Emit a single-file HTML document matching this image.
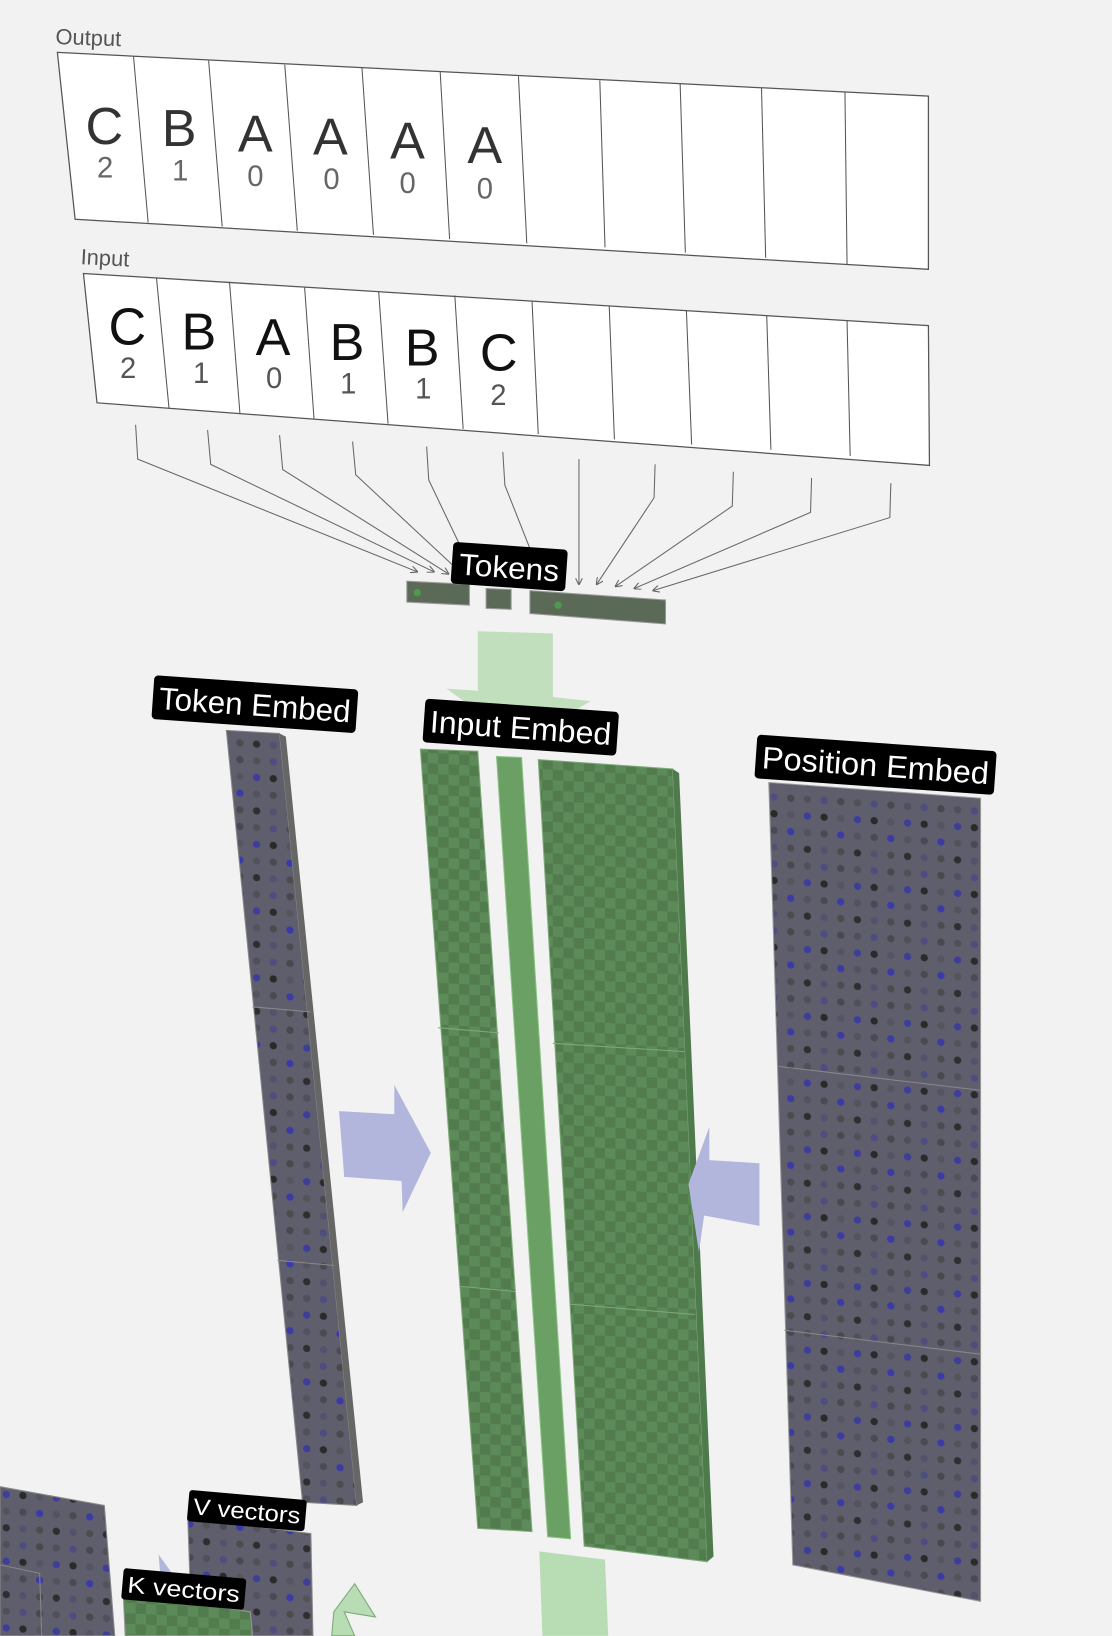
<!DOCTYPE html>
<html><head><meta charset="utf-8"><style>
html,body{margin:0;padding:0;background:#f2f2f2;}
svg{display:block;}
text{font-family:"Liberation Sans",sans-serif;}
</style></head><body>
<svg width="1112" height="1636" viewBox="0 0 1066 1568" xmlns="http://www.w3.org/2000/svg">
<defs>
<pattern id="dots" width="48" height="64" patternUnits="userSpaceOnUse" patternTransform="skewY(4)">
<rect width="48" height="64" fill="#5e5e6c"/>
<circle cx="6" cy="8" r="3.5" fill="#505058"/><circle cx="22" cy="8" r="3.5" fill="#4d4d80"/><circle cx="38" cy="8" r="3.5" fill="#48484e"/>
<circle cx="6" cy="24" r="3.5" fill="#3d3d9a"/><circle cx="22" cy="24" r="3.5" fill="#2a2a2a"/><circle cx="38" cy="24" r="3.5" fill="#55555e"/>
<circle cx="6" cy="40" r="3.5" fill="#53535c"/><circle cx="22" cy="40" r="3.5" fill="#4a4a52"/><circle cx="38" cy="40" r="3.5" fill="#3b3ba8"/>
<circle cx="6" cy="56" r="3.5" fill="#2e2e30"/><circle cx="22" cy="56" r="3.5" fill="#525270"/><circle cx="38" cy="56" r="3.5" fill="#4c4c50"/>
</pattern>
<pattern id="chk" width="20" height="20" patternUnits="userSpaceOnUse" patternTransform="skewY(3)">
<rect width="20" height="20" fill="#5c8a58"/>
<rect width="10" height="10" fill="#527c4e"/><rect x="10" y="10" width="10" height="10" fill="#527c4e"/>
</pattern>
<marker id="ah" viewBox="0 0 10 10" refX="9" refY="5" markerWidth="7" markerHeight="7" orient="auto">
<path d="M0,0 L10,5 L0,10" fill="none" stroke="#666" stroke-width="1.5"/></marker>
</defs>

<!-- Output row -->
<text x="53" y="42" font-size="21" fill="#555" transform="rotate(2 53 42)">Output</text>
<polygon points="55,50 890,92 890,258 72,210" fill="#fff" stroke="#555" stroke-width="1.2"/>
<g stroke="#555" stroke-width="1">
<line x1="128" y1="54" x2="142" y2="213"/><line x1="200" y1="58" x2="213" y2="217"/>
<line x1="273" y1="62" x2="285" y2="221"/><line x1="347" y1="65" x2="358" y2="225"/>
<line x1="422" y1="69" x2="431" y2="229"/><line x1="497" y1="73" x2="505" y2="233"/>
<line x1="575" y1="77" x2="580" y2="237"/><line x1="652" y1="80" x2="657" y2="242"/>
<line x1="730" y1="84" x2="734" y2="247"/><line x1="810" y1="88" x2="812" y2="253"/>
</g>
<g font-size="50" fill="#333">
<text x="82" y="138">C</text><text x="155" y="140">B</text><text x="228" y="145">A</text>
<text x="300" y="148">A</text><text x="374" y="152">A</text><text x="448" y="156">A</text>
</g>
<g font-size="28" fill="#666">
<text x="93" y="170">2</text><text x="165" y="173">1</text><text x="237" y="178">0</text>
<text x="310" y="181">0</text><text x="383" y="185">0</text><text x="457" y="190">0</text>
</g>

<!-- Input row -->
<text x="77" y="253" font-size="21" fill="#555" transform="rotate(3 77 253)">Input</text>
<polygon points="80,262 890,312 891,446 93,386" fill="#fff" stroke="#555" stroke-width="1.2"/>
<g stroke="#555" stroke-width="1">
<line x1="150" y1="266" x2="162" y2="391"/><line x1="220" y1="270" x2="230" y2="396"/>
<line x1="292" y1="275" x2="301" y2="401"/><line x1="363" y1="279" x2="372" y2="406"/>
<line x1="436" y1="283" x2="444" y2="411"/><line x1="510" y1="288" x2="516" y2="416"/>
<line x1="584" y1="293" x2="589" y2="421"/><line x1="658" y1="297" x2="663" y2="426"/>
<line x1="735" y1="302" x2="739" y2="431"/><line x1="812" y1="307" x2="815" y2="437"/>
</g>
<g font-size="50" fill="#111">
<text x="104" y="330">C</text><text x="174" y="335">B</text><text x="245" y="340">A</text>
<text x="316" y="345">B</text><text x="388" y="350">B</text><text x="460" y="355">C</text>
</g>
<g font-size="28" fill="#555">
<text x="115" y="362">2</text><text x="185" y="367">1</text><text x="255" y="372">0</text>
<text x="326" y="377">1</text><text x="398" y="382">1</text><text x="470" y="388">2</text>
</g>

<!-- connectors -->
<g stroke="#666" stroke-width="1" fill="none" marker-end="url(#ah)">
<polyline points="130,407 132,440 400,548"/><polyline points="199,412 202,445 416,548"/>
<polyline points="268,417 271,450 430,550"/><polyline points="338,423 341,455 443,550"/>
<polyline points="409,428 411,460 455,552"/><polyline points="482,433 484,465 520,556"/>
<polyline points="555,440 555,560"/><polyline points="628,445 627,477 572,560"/>
<polyline points="703,452 702,485 590,562"/><polyline points="778,458 777,491 608,564"/>
<polyline points="854,463 853,496 626,566"/>
</g>
<!-- tokens blocks -->
<polygon points="390,557 450,560 450,580 390,577" fill="#5a6a57" stroke="#999"/>
<polygon points="466,564 490,565 490,584 466,583" fill="#5a6a57" stroke="#999"/>
<polygon points="508,566 638,575 638,598 508,588" fill="#5a6a57" stroke="#999"/>
<circle cx="400" cy="568" r="3.5" fill="#4c9a4c"/><circle cx="535" cy="580" r="3.5" fill="#4c9a4c"/>
<g transform="rotate(4 488 545)"><rect x="433" y="523" width="110" height="40" rx="4" fill="#000"/>
<text x="440" y="554" font-size="29" fill="#fff" textLength="96" lengthAdjust="spacingAndGlyphs">Tokens</text></g>

<!-- green down arrow -->
<polygon points="458,605 530,607 530,668 566,672 500,712 428,660 458,662" fill="#b8dcb4" opacity="0.85"/>

<!-- Token embed -->
<polygon points="217,700 268,703 342,1443 290,1440" fill="url(#dots)" stroke="#888"/>
<polygon points="268,703 274,706 348,1440 342,1443" fill="#666"/>
<line x1="242" y1="965" x2="298" y2="970" stroke="#888"/><line x1="266" y1="1208" x2="320" y2="1213" stroke="#888"/>
<g transform="rotate(4 245 680)"><rect x="146" y="654" width="196" height="42" rx="4" fill="#000"/>
<text x="152" y="686" font-size="30" fill="#fff" textLength="184" lengthAdjust="spacingAndGlyphs">Token Embed</text></g>

<!-- blue right arrow -->
<polygon points="325,1065 378,1068 378,1040 413,1105 386,1162 385,1132 330,1128" fill="#b3b6dc"/>

<!-- Input embed -->
<polygon points="403,718 458,720 510,1468 458,1465" fill="url(#chk)" stroke="#7fa97a"/>
<polygon points="476,725 500,726 547,1475 525,1473" fill="#6aa064" stroke="#8ac184"/>
<polygon points="516,728 645,737 678,1497 560,1482" fill="url(#chk)" stroke="#7fa97a"/>
<polygon points="645,737 651,741 684,1492 678,1497" fill="#4f7a4b"/>
<line x1="420" y1="985" x2="478" y2="990" stroke="#7fa97a"/><line x1="442" y1="1233" x2="494" y2="1238" stroke="#7fa97a"/>
<line x1="530" y1="1000" x2="656" y2="1008" stroke="#7fa97a"/><line x1="546" y1="1250" x2="666" y2="1260" stroke="#7fa97a"/>
<g transform="rotate(4 500 700)"><rect x="406" y="676" width="186" height="42" rx="4" fill="#000"/>
<text x="412" y="708" font-size="30" fill="#fff" textLength="174" lengthAdjust="spacingAndGlyphs">Input Embed</text></g>

<!-- left arrow -->
<polygon points="728,1115 680,1112 680,1080 660,1135 670,1200 675,1165 728,1175" fill="#b3b6dc"/>

<!-- Position embed -->
<polygon points="737,750 940,765 940,1535 760,1500" fill="url(#dots)" stroke="#999"/>
<line x1="745" y1="1022" x2="940" y2="1045" stroke="#888"/><line x1="752" y1="1275" x2="940" y2="1298" stroke="#888"/>
<g transform="rotate(4 840 738)"><rect x="724" y="712" width="230" height="42" rx="4" fill="#000"/>
<text x="730" y="744" font-size="30" fill="#fff" textLength="218" lengthAdjust="spacingAndGlyphs">Position Embed</text></g>

<!-- bottom green arrow -->
<polygon points="517,1487 580,1495 583,1568 520,1568" fill="#b8dcb4"/>

<!-- bottom left blocks -->
<polygon points="0,1425 100,1443 110,1568 0,1568" fill="url(#dots)" stroke="#888"/>
<polygon points="0,1500 38,1508 40,1568 0,1568" fill="url(#dots)" stroke="#888"/>
<polygon points="180,1455 298,1470 300,1568 184,1568" fill="url(#dots)" stroke="#888"/>
<polygon points="118,1525 240,1545 242,1568 120,1568" fill="url(#chk)" stroke="#999"/>
<polygon points="152,1490 170,1515 155,1525" fill="#b3b6dc"/>
<polygon points="340,1518 320,1545 318,1568 340,1568 330,1545 360,1550" fill="#b8dcb4" stroke="#7aa877"/>
<g transform="rotate(5 237 1450)"><rect x="180" y="1433" width="113" height="30" rx="3" fill="#000"/>
<text x="185" y="1456" font-size="22" fill="#fff" textLength="103" lengthAdjust="spacingAndGlyphs">V vectors</text></g>
<g transform="rotate(5 175 1525)"><rect x="117" y="1508" width="118" height="30" rx="3" fill="#000"/>
<text x="122" y="1531" font-size="22" fill="#fff" textLength="108" lengthAdjust="spacingAndGlyphs">K vectors</text></g>
</svg>
</body></html>
